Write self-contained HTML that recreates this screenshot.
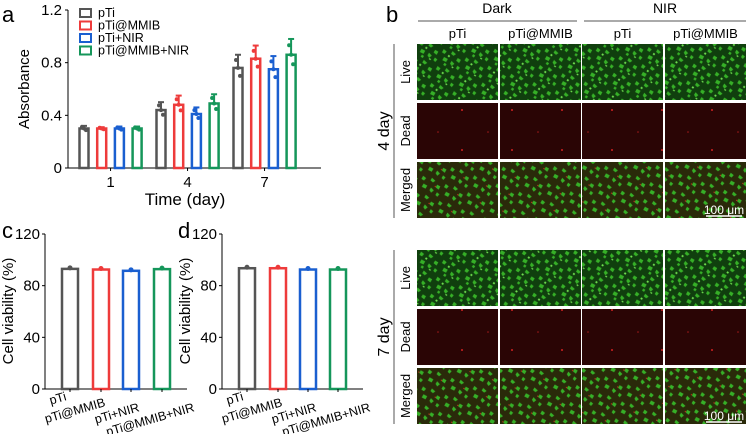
<!DOCTYPE html>
<html><head><meta charset="utf-8"><style>
body{margin:0;background:#fff;width:748px;height:434px;overflow:hidden;font-family:"Liberation Sans",sans-serif}
svg text{font-family:"Liberation Sans",sans-serif}
</style></head><body>
<svg id="fig" width="748" height="434">
<defs>
<pattern id="live" width="40" height="30" patternUnits="userSpaceOnUse" patternTransform="scale(0.6) rotate(20)">
<rect width="40" height="30" fill="#103f0e"/>
<path d="M3 4l6 2-2 5-5-1zM18 2l7 3-3 4-5-2zM30 10l6 1-1 6-6-2zM8 16l7 1-1 6-7-1zM22 18l6 3-3 5-4-3zM34 22l5 2-2 5-4-2zM12 25l4 1-1 4-4-1z" fill="#36b027"/>
<path d="M14 10l3 1-1 3-3-1zM26 26l3 1-1 2-3-1z" fill="#6fe050"/>
</pattern>
<pattern id="merged" width="40" height="30" patternUnits="userSpaceOnUse" patternTransform="scale(0.6) rotate(20)">
<rect width="40" height="30" fill="#2a2a0a"/>
<path d="M3 4l6 2-2 5-5-1zM18 2l7 3-3 4-5-2zM30 10l6 1-1 6-6-2zM8 16l7 1-1 6-7-1zM22 18l6 3-3 5-4-3zM34 22l5 2-2 5-4-2z" fill="#36b027"/>
<circle cx="28" cy="14" r="1" fill="#e03020"/>
</pattern>
<pattern id="dead" width="50" height="40" patternUnits="userSpaceOnUse">
<rect width="50" height="40" fill="#2a0505"/>
<circle cx="12" cy="30" r="1" fill="#d02020"/><circle cx="38" cy="12" r="0.8" fill="#a01818"/>
</pattern>
</defs>
</svg>
<script>
const NS='http://www.w3.org/2000/svg';
const svg=document.getElementById('fig');
function el(tag,attrs,parent,text){const e=document.createElementNS(NS,tag);for(const k in attrs)e.setAttribute(k,attrs[k]);if(text!==undefined)e.textContent=text;(parent||svg).appendChild(e);return e;}
const colors=['#555555','#ee3b3b','#1a5fd0','#15965a'];
const groupNames=['pTi','pTi@MMIB','pTi+NIR','pTi@MMIB+NIR'];
// Panel a data
const days=['1','4','7'];
const absMean=[[0.30,0.30,0.30,0.30],[0.44,0.48,0.41,0.49],[0.76,0.83,0.75,0.86]];
const absErr=[[0.02,0.01,0.015,0.015],[0.06,0.07,0.05,0.07],[0.10,0.10,0.10,0.12]];
const absTicks=[0,0.4,0.8,1.2];
// Panel c/d data
const viabC=[93,92.5,91.5,92.8];
const viabD=[93.5,93.5,92.5,92.5];
const viabTicks=[0,40,80,120];

// Panel a
const ay=v=>168-v*(158/1.2);
const ax=(g,s)=>84+g*77+s*17.7;
let t;
t=el('text',{x:2,y:22,'font-size':22},svg,'a');
el('line',{x1:68,y1:10,x2:68,y2:168,stroke:'#000','stroke-width':1});
el('line',{x1:68,y1:168,x2:321,y2:168,stroke:'#000','stroke-width':1});
absTicks.forEach(v=>{el('line',{x1:65,y1:ay(v),x2:68,y2:ay(v),stroke:'#000'});
 t=el('text',{x:62,y:ay(v)+5,'font-size':15,'text-anchor':'end'},svg,String(v));});
t=el('text',{x:0,y:0,'font-size':15,'text-anchor':'middle',transform:'translate(29,89) rotate(-90)'},svg,'Absorbance');
days.forEach((d,g)=>{const cx=(ax(g,0)+ax(g,3))/2;el('line',{x1:cx,y1:168,x2:cx,y2:171,stroke:'#000'});
 t=el('text',{x:cx,y:187,'font-size':15,'text-anchor':'middle'},svg,d);
 absMean[g].forEach((v,s)=>{const x=ax(g,s);
  const r=el('rect',{x:x-4.5,y:ay(v),width:9,height:168-ay(v),fill:'none',stroke:colors[s],'stroke-width':2.5});
  
  el('line',{x1:x,y1:ay(v),x2:x,y2:ay(v+absErr[g][s]),stroke:colors[s],'stroke-width':2});
  el('line',{x1:x-3,y1:ay(v+absErr[g][s]),x2:x+3,y2:ay(v+absErr[g][s]),stroke:colors[s],'stroke-width':2});
  [0.6,0,-0.6].forEach((k,i)=>el('circle',{cx:x+(i-1)*2,cy:ay(v+k*absErr[g][s]),r:2,fill:colors[s]}));
 });});
t=el('text',{x:185,y:205,'font-size':17,'text-anchor':'middle'},svg,'Time (day)');
groupNames.forEach((n,i)=>{const y=13+i*12.5;
 el('rect',{x:80,y:y-4,width:11,height:8,fill:'none',stroke:colors[i],'stroke-width':2});
 t=el('text',{x:98,y:y+4,'font-size':12.5},svg,n);});

// Panels c, d
const lblDx=[-3,5,9,33];const lblY=[400,406,411,411];
function viab(letter,lx,axisX,axisEnd,centers,vals){
 const vy=v=>389-v*(155/120);
 t=el('text',{x:lx,y:238,'font-size':22},svg,letter);
 el('line',{x1:axisX,y1:234,x2:axisX,y2:389,stroke:'#000'});
 el('line',{x1:axisX,y1:389,x2:axisEnd,y2:389,stroke:'#000'});
 viabTicks.forEach(v=>{el('line',{x1:axisX-3,y1:vy(v),x2:axisX,y2:vy(v),stroke:'#000'});
  t=el('text',{x:axisX-5,y:vy(v)+5,'font-size':15,'text-anchor':'end'},svg,String(v));});
 t=el('text',{x:0,y:0,'font-size':15,'text-anchor':'middle',transform:`translate(${axisX-32},311) rotate(-90)`},svg,'Cell viability (%)');
 vals.forEach((v,i)=>{const cx=centers[i];
  const r=el('rect',{x:cx-8,y:vy(v),width:16,height:389-vy(v),fill:'none',stroke:colors[i],'stroke-width':2.5});
  
  el('circle',{cx:cx,cy:vy(v)-1,r:2.5,fill:colors[i]});
  el('line',{x1:cx,y1:389,x2:cx,y2:392,stroke:'#000'});
  t=el('text',{x:0,y:0,'font-size':12.5,'text-anchor':'end',transform:`translate(${cx+lblDx[i]},${lblY[i]}) rotate(-16)`},svg,groupNames[i]);
  });
}
viab('c',2,45,187,[70,101,131,162],viabC);
viab('d',178,222,363,[247,278,308,338],viabD);

// Panel b
t=el('text',{x:386,y:22,'font-size':22},svg,'b');
el('line',{x1:418,y1:21,x2:577,y2:21,stroke:'#555'});el('line',{x1:584,y1:21,x2:746,y2:21,stroke:'#555'});
t=el('text',{x:497,y:13,'font-size':14,'text-anchor':'middle'},svg,'Dark');
t=el('text',{x:665,y:13,'font-size':14,'text-anchor':'middle'},svg,'NIR');
const cols=[417,500,582,665];const colW=81;
['pTi','pTi@MMIB','pTi','pTi@MMIB'].forEach((n,i)=>{t=el('text',{x:cols[i]+colW/2,y:38,'font-size':13,'text-anchor':'middle'},svg,n);});
[[44,'4 day'],[250,'7 day']].forEach(([top,lab])=>{
 el('line',{x1:394,y1:top,x2:394,y2:top+174,stroke:'#555'});
 t=el('text',{x:0,y:0,'font-size':16,'text-anchor':'middle',transform:`translate(389,${top+87}) rotate(-90)`},svg,lab);
 ['Live','Dead','Merged'].forEach((r,ri)=>{const y=top+ri*59;
  t=el('text',{x:0,y:0,'font-size':13,'text-anchor':'middle',transform:`translate(410,${y+28}) rotate(-90)`},svg,r);
  cols.forEach((x,ci)=>{const im=el('rect',{x:x,y:y,width:colW,height:56,fill:['url(#live)','url(#dead)','url(#merged)'][ri]});
   });
 });
 t=el('text',{x:724,y:top+170,'font-size':12,'text-anchor':'middle',fill:'#fff'},svg,'100 μm');
 el('line',{x1:706,y1:top+172,x2:742,y2:top+172,stroke:'#fff','stroke-width':1.5});
});
</script>
</body></html>
